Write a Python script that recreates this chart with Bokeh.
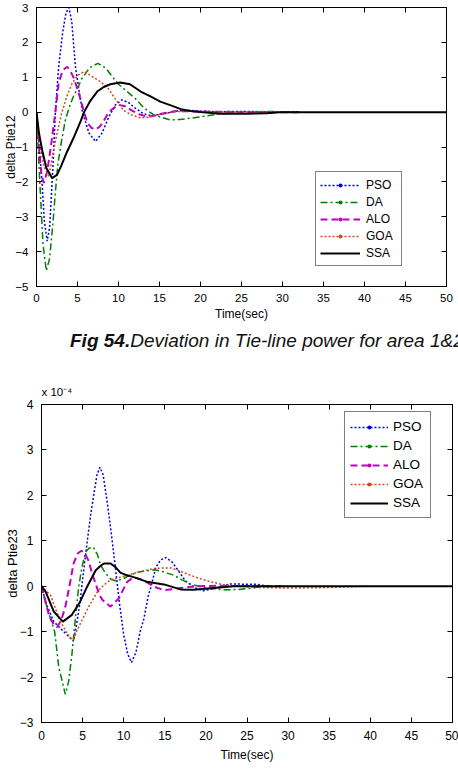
from bokeh.plotting import figure
from bokeh.models import Range1d, LinearAxis, SingleIntervalTicker, Legend, LegendItem, Div, Title
from bokeh.embed import file_html
from bokeh.resources import INLINE

# ---------------- data (values in units of 1e-4) ----------------
series_names = ["PSO", "DA", "ALO", "GOA", "SSA"]

# Fig 54: delta Ptie12
t12_pso = [0, 0.3, 0.7, 0.95, 1.3, 1.6, 2.0, 2.3, 2.7, 3.2, 3.6, 3.95, 4.3, 4.75, 5.2, 5.6, 6.4, 7.2, 8.0, 8.8,
           9.6, 10.4, 11.2, 12.0, 13.0, 14.0, 15.5, 17.0, 18.5, 20.0, 22.0, 25.0, 28.0, 32.0]
v12_pso = [0, -0.9, -2.1, -3.1, -3.7, -3.3, -1.6, 0.0, 1.3, 2.3, 2.85, 3.0, 2.6, 1.3, 0.6, 0.0, -0.6, -0.84, -0.6, -0.15,
           0.2, 0.35, 0.28, 0.12, -0.04, -0.1, -0.05, 0.03, 0.05, 0.03, 0.01, 0.02, 0.01, 0.0]

t12_da = [0, 0.4, 0.8, 1.2, 1.6, 2.0, 2.3, 2.6, 3.0, 3.5, 4.0, 4.5, 5.0, 5.5, 6.5, 7.5, 8.5, 9.3, 10.0, 11.0,
          12.0, 13.0, 13.5, 14.3, 15.2, 16.3, 17.5, 19.0, 20.5, 22.0, 25.0, 28.0, 32.0]
v12_da = [0, -2.0, -3.8, -4.55, -4.2, -3.2, -2.3, -1.5, -0.9, -0.25, 0.15, 0.45, 0.68, 0.95, 1.28, 1.4, 1.25, 1.0, 0.8, 0.6,
          0.4, 0.15, 0.05, -0.08, -0.15, -0.22, -0.21, -0.17, -0.12, -0.06, 0.0, 0.02, 0.0]

t12_alo = [0, 0.3, 0.6, 0.9, 1.3, 1.7, 2.0, 2.3, 2.7, 3.2, 3.75, 4.2, 4.6, 5.0, 5.4, 5.8, 6.2, 6.7, 7.2, 7.7,
           8.2, 8.7, 9.2, 10.0, 10.8, 11.6, 12.5, 13.5, 14.5, 15.5, 17.0, 19.0, 22.0, 26.0, 32.0]
v12_alo = [0, -1.0, -1.8, -2.03, -1.7, -1.08, -0.55, 0.0, 0.83, 1.2, 1.3, 1.15, 0.95, 0.65, 0.35, 0.0, -0.3, -0.45, -0.5, -0.42,
           -0.25, -0.05, 0.08, 0.21, 0.17, 0.05, -0.06, -0.13, -0.1, -0.03, 0.03, 0.02, 0.01, 0.0, 0.0]

t12_goa = [0, 0.4, 0.9, 1.5, 2.1, 2.6, 3.1, 3.7, 4.35, 5.0, 5.8, 6.6, 7.6, 8.6, 9.6, 10.6, 11.6, 12.7, 13.8, 15.0,
           16.5, 18.0, 20.0, 23.0, 27.0, 32.0]
v12_goa = [0, -0.9, -1.55, -1.84, -1.08, -0.5, 0.0, 0.45, 0.83, 1.05, 1.16, 1.05, 0.9, 0.73, 0.38, 0.05, -0.08, -0.17, -0.14, -0.07,
           0.0, 0.03, 0.02, 0.0, 0.01, 0.0]

t12_ssa = [0, 0.3, 0.7, 1.2, 1.9, 2.5, 3.0, 3.7, 4.5, 5.4, 5.8, 6.5, 7.4, 8.2, 9.0, 10.2, 11.4, 12.7, 13.9, 15.1,
           16.3, 17.6, 18.8, 20.0, 22.4, 25.7, 28.0, 30.0, 35.0, 50.0]
v12_ssa = [0, -0.6, -1.1, -1.6, -1.89, -1.8, -1.55, -1.15, -0.75, -0.25, 0.0, 0.3, 0.59, 0.72, 0.8, 0.85, 0.8, 0.59, 0.45, 0.3,
           0.2, 0.085, 0.03, 0.0, -0.05, -0.05, -0.03, 0.0, 0.0, 0.0]

# Fig 55: delta Ptie23
t23_pso = [0, 0.6, 1.5, 2.7, 3.9, 4.3, 4.7, 5.1, 5.55, 6.0, 6.4, 6.75, 7.1, 7.5, 8.0, 8.5, 9.0, 9.5, 10.0, 10.5,
           10.95, 11.5, 12.0, 12.45, 13.0, 13.3, 13.9, 14.5, 15.1, 15.8, 16.5, 17.5, 18.6, 19.7, 21.0, 23.0, 26.3, 27.5]
v23_pso = [0, -0.4, -0.78, -1.0, -1.21, -0.8, -0.34, 0.3, 0.97, 1.6, 2.06, 2.45, 2.62, 2.45, 1.84, 1.15, 0.39, -0.4, -1.07, -1.5,
           -1.68, -1.45, -1.0, -0.72, -0.2, -0.03, 0.41, 0.58, 0.63, 0.55, 0.38, 0.12, -0.03, -0.1, -0.05, 0.05, 0.04, 0.0]

t23_da = [0, 0.7, 1.6, 2.1, 2.9, 3.3, 3.7, 4.1, 4.5, 4.9, 5.35, 5.8, 6.3, 6.8, 7.2, 7.8, 8.4, 9.0, 9.8, 10.8,
          12.0, 13.7, 14.8, 16.1, 17.1, 18.1, 20.0, 22.2, 24.0, 25.4, 27.0]
v23_da = [0, -0.49, -1.0, -1.78, -2.38, -2.1, -1.5, -0.75, -0.05, 0.4, 0.75, 0.84, 0.86, 0.7, 0.46, 0.28, 0.16, 0.12, 0.15, 0.25,
          0.32, 0.36, 0.32, 0.24, 0.14, 0.05, -0.04, -0.08, -0.07, -0.05, 0.0]

t23_alo = [0, 0.9, 1.5, 1.9, 2.4, 2.9, 3.4, 3.9, 4.4, 4.86, 5.3, 5.75, 6.2, 6.6, 7.0, 7.4, 8.4, 9.4, 10.4, 11.2,
           12.4, 13.7, 14.9, 16.9, 19.0, 22.0, 26.0, 29.5]
v23_alo = [0, -0.63, -0.85, -0.9, -0.75, -0.45, 0.0, 0.5, 0.72, 0.78, 0.72, 0.55, 0.25, 0.05, -0.17, -0.3, -0.45, -0.27, 0.09, 0.2,
           0.13, -0.01, -0.09, -0.04, 0.0, 0.01, 0.0, 0.0]

t23_goa = [0, 1.1, 2.3, 3.0, 3.5, 3.9, 4.3, 5.0, 5.75, 6.8, 7.6, 8.4, 9.6, 10.8, 12.2, 13.7, 14.8, 15.8, 16.9, 18.0,
           18.9, 20.5, 22.2, 24.5, 27.0, 30.0, 35.0, 39.6]
v23_goa = [0, -0.2, -0.78, -1.0, -1.14, -1.18, -0.98, -0.72, -0.45, -0.12, 0.03, 0.14, 0.2, 0.26, 0.33, 0.39, 0.4, 0.4, 0.33, 0.25,
           0.19, 0.1, 0.03, -0.01, -0.03, -0.04, -0.03, 0.0]

t23_ssa = [0, 0.5, 1.5, 2.6, 3.7, 4.7, 5.55, 6.6, 7.2, 7.6, 8.4, 9.0, 9.6, 10.4, 11.2, 12.8, 14.9, 16.9, 18.5, 20.9,
           23.4, 30.0, 40.0, 50.0]
v23_ssa = [0, -0.12, -0.56, -0.78, -0.63, -0.34, -0.01, 0.35, 0.45, 0.5, 0.5, 0.42, 0.3, 0.24, 0.2, 0.1, 0.04, -0.07, -0.08, -0.04,
           0.0, 0.0, 0.0, 0.0]

x_ticks_step = 5
y_ticks_step = 1
x_label = "Time(sec)"
scale_label = "x 10\u207b\u2074"

# ---------------- styles ----------------
FONT = "Liberation Sans"
COLORS = {"PSO": "#0000dd", "DA": "#008000", "ALO": "#c000c0", "GOA": "#d04a1c", "SSA": "#000000"}
DASH = {"PSO": "2 2", "DA": "7 3 2 3", "ALO": "7 4", "GOA": "2 2", "SSA": "solid"}
LW = {"PSO": 1.5, "DA": 1.5, "ALO": 2, "GOA": 1.5, "SSA": 2}


def make_fig(data, y_lo, y_hi, ylabel, width, height, borders, tick_font, xlab_font, ylab_font,
             xstand, ystand, leg, scale_title):
    bl, br, bt, bb = borders
    p = figure(width=width, height=height, x_range=Range1d(0, 50), y_range=Range1d(y_lo, y_hi),
               output_backend="svg", toolbar_location=None,
               min_border_left=bl, min_border_right=br, min_border_top=bt, min_border_bottom=bb)
    p.xgrid.visible = False
    p.ygrid.visible = False
    p.outline_line_color = "black"
    p.outline_line_width = 1
    p.background_fill_color = "white"

    xt = SingleIntervalTicker(interval=x_ticks_step)
    yt = SingleIntervalTicker(interval=y_ticks_step)
    p.xaxis.ticker = xt
    p.yaxis.ticker = yt
    for ax in (p.xaxis[0], p.yaxis[0]):
        ax.major_tick_in = 5
        ax.major_tick_out = 0
        ax.minor_tick_line_color = None
        ax.axis_line_color = "black"
        ax.major_tick_line_color = "black"
        ax.major_label_text_font = FONT
        ax.major_label_text_font_size = tick_font
        ax.major_label_text_color = "black"
        ax.axis_label_text_font = FONT
        ax.axis_label_text_font_style = "normal"
        ax.axis_label_text_color = "black"
    p.xaxis.axis_label = x_label
    p.yaxis.axis_label = ylabel
    p.xaxis.axis_label_text_font_size = xlab_font
    p.yaxis.axis_label_text_font_size = ylab_font
    p.xaxis.major_label_standoff = xstand[0]
    p.xaxis.axis_label_standoff = xstand[1]
    p.yaxis.major_label_standoff = ystand[0]
    p.yaxis.axis_label_standoff = ystand[1]

    for place, tk in (("above", xt), ("right", yt)):
        ax = LinearAxis(ticker=tk, major_tick_in=5, major_tick_out=0, minor_tick_line_color=None,
                        major_label_text_font_size="1px", major_label_text_color=None,
                        major_label_standoff=0,
                        axis_line_color="black", major_tick_line_color="black")
        p.add_layout(ax, place)

    if scale_title:
        p.add_layout(Title(text=scale_label, align="left", text_font=FONT, text_font_size="11.5px",
                           text_font_style="normal", text_color="black", standoff=5, offset=0), "above")

    items = []
    for name in series_names:
        t, v = data[name]
        r = p.line(t, v, line_color=COLORS[name], line_width=LW[name], line_dash=DASH[name])
        rends = [r]
        if name != "SSA":
            # marker shown only in the legend (zero size on the plot itself)
            m = p.scatter(x=t[-1:], y=v[-1:], marker="circle", size=0, fill_color=COLORS[name],
                          line_color=None)
            rends.append(m)
        items.append(LegendItem(label=name, renderers=rends))

    lx, ly, gw, gh, ih, pad, stand, lw, lfont = leg
    legend = Legend(items=items, location=(lx, ly), glyph_width=gw, glyph_height=gh, label_height=ih,
                    label_width=lw, padding=pad, spacing=0, label_standoff=stand, margin=0,
                    border_line_color="black", border_line_width=1, background_fill_color="white",
                    background_fill_alpha=1.0, label_text_font=FONT, label_text_font_size=lfont,
                    label_text_color="black")
    p.add_layout(legend)
    return p


data12 = {"PSO": (t12_pso, v12_pso), "DA": (t12_da, v12_da), "ALO": (t12_alo, v12_alo),
          "GOA": (t12_goa, v12_goa), "SSA": (t12_ssa, v12_ssa)}
data23 = {"PSO": (t23_pso, v23_pso), "DA": (t23_da, v23_da), "ALO": (t23_alo, v23_alo),
          "GOA": (t23_goa, v23_goa), "SSA": (t23_ssa, v23_ssa)}

p1 = make_fig(data12, -5, 3, "delta Ptie12", 458, 323, (36, 12, 7, 36), "11.5px", "12px", "12px",
              (3, 2), (4, -6), (279, 20, 40, 10, 17, 4, 6, 31, "12px"), False)
caption = Div(text='<div style="position:absolute;left:70px;top:4px;white-space:nowrap;'
                   'font-family:\'Liberation Sans\',Arial,sans-serif;font-size:19px;font-style:italic;'
                   'color:#111;"><b>Fig 54.</b>Deviation in Tie-line power for area 1&amp;2</div>',
              width=458, height=47, margin=0, styles={"overflow": "hidden", "position": "relative"})
p2 = make_fig(data23, -3, 4, "delta Ptie23", 458, 404, (41, 6, 34, 52), "12px", "12px", "13px",
              (4, 5), (4, -3), (303, 204, 38, 10, 19, 5, 5, 32, "13.5px"), True)

open("out.html", "w").write(file_html([p1, caption, p2], INLINE))
